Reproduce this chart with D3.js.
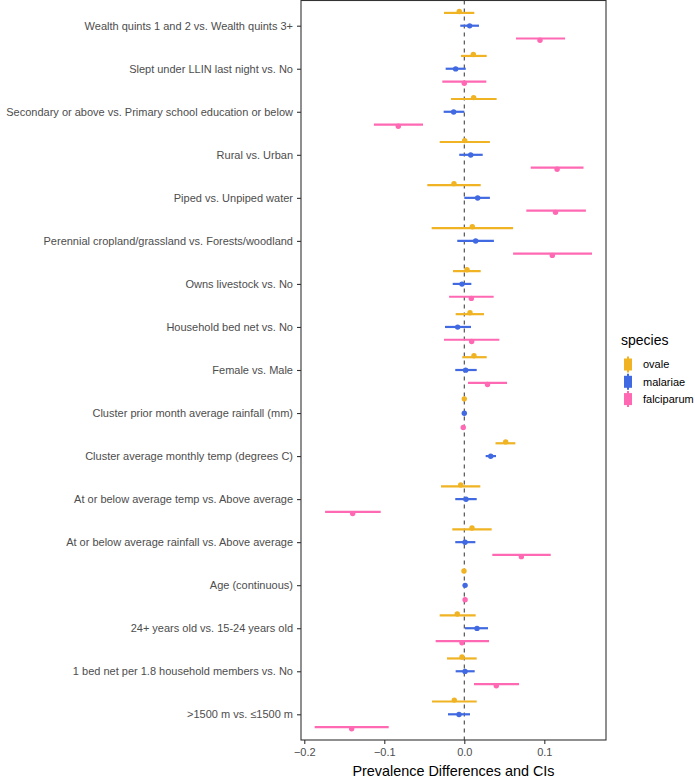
<!DOCTYPE html>
<html>
<head>
<meta charset="utf-8">
<script src="https://cdn.jsdelivr.net/npm/d3@7"></script>
<style>
  html, body { margin: 0; padding: 0; background: #fff; }
  svg { display: block; font-family: "Liberation Sans", Arial, sans-serif; }
</style>
</head>
<body>
<svg id="chart" width="695" height="778"></svg>
<script>
const categories = [
  "Wealth quints 1 and 2 vs. Wealth quints 3+",
  "Slept under LLIN last night vs. No",
  "Secondary or above vs. Primary school education or below",
  "Rural vs. Urban",
  "Piped vs. Unpiped water",
  "Perennial cropland/grassland vs. Forests/woodland",
  "Owns livestock vs. No",
  "Household bed net vs. No",
  "Female vs. Male",
  "Cluster prior month average rainfall (mm)",
  "Cluster average monthly temp (degrees C)",
  "At or below average temp vs. Above average",
  "At or below average rainfall vs. Above average",
  "Age (continuous)",
  "24+ years old vs. 15-24 years old",
  "1 bed net per 1.8 household members vs. No",
  ">1500 m vs. \u22641500 m"
];
const species = ["ovale", "malariae", "falciparum"];
const speciesColors = ["#EFB323", "#4169E1", "#FF69B4"];

// estimate, lower CI, upper CI (per category, same order as categories)
const ovaleEst = [-0.0063, 0.0113, 0.0117, 0.0005, -0.0129, 0.0100, 0.0034, 0.0071, 0.0121, 0.0000, 0.0517, -0.0045, 0.0096, -0.0004, -0.0088, -0.0029, -0.0125];
const ovaleLo  = [-0.0254, -0.0041, -0.0166, -0.0308, -0.0462, -0.0408, -0.0141, -0.0108, -0.0025, -0.0010, 0.0390, -0.0291, -0.0150, -0.0010, -0.0308, -0.0216, -0.0404];
const ovaleHi  = [0.0125, 0.0280, 0.0404, 0.0320, 0.0205, 0.0610, 0.0205, 0.0246, 0.0280, 0.0010, 0.0638, 0.0200, 0.0342, 0.0005, 0.0142, 0.0155, 0.0155];

const malariaeEst = [0.0067, -0.0108, -0.0133, 0.0080, 0.0167, 0.0142, -0.0029, -0.0083, 0.0017, 0.0000, 0.0330, 0.0021, 0.0009, 0.0010, 0.0159, 0.0009, -0.0066];
const malariaeLo  = [-0.0050, -0.0233, -0.0258, -0.0063, 0.0000, -0.0088, -0.0145, -0.0241, -0.0113, -0.0008, 0.0267, -0.0113, -0.0113, 0.0004, 0.0009, -0.0108, -0.0204];
const malariaeHi  = [0.0184, 0.0018, 0.0000, 0.0230, 0.0320, 0.0370, 0.0088, 0.0084, 0.0155, 0.0008, 0.0396, 0.0155, 0.0138, 0.0016, 0.0296, 0.0130, 0.0071];

const falciparumEst = [0.0946, 0.0000, -0.0825, 0.1160, 0.1140, 0.1100, 0.0088, 0.0092, 0.0290, -0.0013, null, -0.1395, 0.0713, 0.0010, -0.0029, 0.0400, -0.1408];
const falciparumLo  = [0.0646, -0.0275, -0.1130, 0.0830, 0.0775, 0.0610, -0.0190, -0.0254, 0.0046, -0.0018, null, -0.1740, 0.0350, 0.0005, -0.0358, 0.0121, -0.1870];
const falciparumHi  = [0.1260, 0.0275, -0.0516, 0.1490, 0.1520, 0.1596, 0.0367, 0.0438, 0.0534, -0.0008, null, -0.1045, 0.1080, 0.0015, 0.0309, 0.0684, -0.0945];

const xTicks = [-0.2, -0.1, 0.0, 0.1];
const xTitle = "Prevalence Differences and CIs";
const legendTitle = "species";

// ---- build rows ----
const seriesData = {
  ovale: [ovaleEst, ovaleLo, ovaleHi],
  malariae: [malariaeEst, malariaeLo, malariaeHi],
  falciparum: [falciparumEst, falciparumLo, falciparumHi]
};
const rows = [];
species.forEach(sp => {
  const [est, lo, hi] = seriesData[sp];
  categories.forEach((c, i) => {
    if (est[i] === null) return;
    rows.push({ cat: c, sp, est: est[i], lo: lo[i], hi: hi[i] });
  });
});

const svg = d3.select("#chart");
const panel = { left: 301, right: 606, top: 0.5, bottom: 740 };

const x = d3.scaleLinear().domain([-0.2041, 0.1771]).range([panel.left, panel.right]);
const y = d3.scalePoint().domain(categories).range([25.7, 714.3]);
const lineOff = d3.scalePoint().domain(species).range([-12.8, 12.8]);
const ptOff = d3.scalePoint().domain(species).range([-14.2, 14.5]);
const color = d3.scaleOrdinal().domain(species).range(speciesColors);

// zero reference line
svg.append("line")
  .attr("x1", x(0)).attr("x2", x(0))
  .attr("y1", panel.top).attr("y2", panel.bottom)
  .attr("stroke", "#444").attr("stroke-width", 1.1)
  .attr("stroke-dasharray", "4,4");

// error bars
svg.append("g").selectAll("line").data(rows).join("line")
  .attr("x1", d => x(d.lo)).attr("x2", d => x(d.hi))
  .attr("y1", d => y(d.cat) + lineOff(d.sp))
  .attr("y2", d => y(d.cat) + lineOff(d.sp))
  .attr("stroke", d => color(d.sp))
  .attr("stroke-width", 2.2);

// points
svg.append("g").selectAll("circle").data(rows).join("circle")
  .attr("cx", d => x(d.est))
  .attr("cy", d => y(d.cat) + ptOff(d.sp))
  .attr("r", 2.7)
  .attr("fill", d => color(d.sp));

// panel border
svg.append("rect")
  .attr("x", panel.left).attr("y", panel.top)
  .attr("width", panel.right - panel.left).attr("height", panel.bottom - panel.top)
  .attr("fill", "none").attr("stroke", "#333").attr("stroke-width", 1.1);

// y axis
const yAxis = svg.append("g").attr("transform", `translate(${panel.left},0)`)
  .call(d3.axisLeft(y).tickSize(4).tickPadding(4));
yAxis.select(".domain").remove();
yAxis.selectAll("line").attr("stroke", "#333").attr("stroke-width", 1.1);
yAxis.selectAll("text").attr("fill", "#4d4d4d").style("font-size", "11px")
  .style("font-family", "'Liberation Sans', Arial, sans-serif");

// x axis
const xAxis = svg.append("g").attr("transform", `translate(0,${panel.bottom})`)
  .call(d3.axisBottom(x).tickValues(xTicks).tickFormat(d3.format(".1f")).tickSize(4).tickPadding(4));
xAxis.select(".domain").remove();
xAxis.selectAll("line").attr("stroke", "#333").attr("stroke-width", 1.1);
xAxis.selectAll("text").attr("fill", "#4d4d4d").style("font-size", "11px")
  .style("font-family", "'Liberation Sans', Arial, sans-serif");

svg.append("text")
  .attr("x", (panel.left + panel.right) / 2).attr("y", 776)
  .attr("text-anchor", "middle")
  .style("font-size", "14.4px").attr("fill", "#000")
  .text(xTitle);

// legend
const lg = svg.append("g").attr("transform", "translate(621,0)");
lg.append("text").attr("x", 0).attr("y", 345).style("font-size", "14px").attr("fill", "#000").text(legendTitle);
species.forEach((sp, i) => {
  const cy = 364.5 + i * 17.3;
  lg.append("rect").attr("x", 3).attr("y", cy - 6).attr("width", 8).attr("height", 12).attr("fill", color(sp));
  lg.append("line").attr("x1", 7).attr("x2", 7).attr("y1", cy - 8).attr("y2", cy + 8)
    .attr("stroke", color(sp)).attr("stroke-width", 2);
  lg.append("text").attr("x", 22).attr("y", cy).attr("dy", "0.35em")
    .style("font-size", "11px").attr("fill", "#000").text(sp);
});
</script>
</body>
</html>
